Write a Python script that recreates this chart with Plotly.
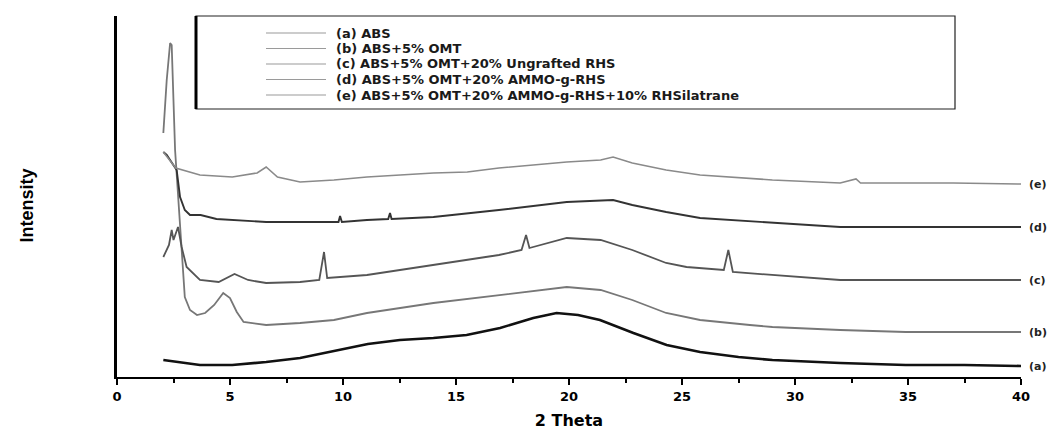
import plotly.graph_objects as go

# Diffraction angle (2 theta) and intensity (a.u., offset stacked)
a_x = [2.05, 3.0, 3.67, 5.1, 6.6, 8.1, 9.57, 11.1, 12.52, 14.0, 15.47, 16.95, 18.42, 19.45, 20.4, 21.37, 22.85, 24.32, 25.8, 27.5, 29.0, 32.0, 34.9, 37.5, 40.0]
a_y = [17, 14, 12, 12, 15, 19, 26, 33, 37, 39, 42, 49, 59, 64, 62, 57, 44, 32, 25, 20, 17, 14, 12, 12, 11]

b_x = [2.05, 2.2, 2.35, 2.42, 2.57, 2.79, 2.88, 3.0, 3.23, 3.54, 3.9, 4.3, 4.7, 5.0, 5.3, 5.6, 6.6, 8.1, 9.6, 11.06, 14.0, 16.9, 19.9, 21.4, 22.8, 24.3, 25.8, 28.0, 29.0, 32.0, 34.9, 40.0]
b_y = [244, 297, 334, 332, 227, 147, 114, 80, 67, 62, 64, 72, 84, 79, 65, 55, 52, 54, 57, 64, 74, 82, 90, 87, 77, 64, 57, 52, 50, 47, 45, 45]

c_x = [2.05, 2.3, 2.42, 2.5, 2.7, 2.86, 3.08, 3.67, 4.5, 5.2, 5.8, 6.6, 8.1, 8.95, 9.16, 9.3, 11.06, 14.0, 16.9, 17.9, 18.1, 18.25, 19.9, 21.4, 22.8, 24.3, 25.2, 26.85, 27.05, 27.25, 29.0, 32.0, 34.9, 40.0]
c_y = [120, 132, 147, 137, 150, 130, 110, 97, 95, 103, 97, 94, 95, 97, 125, 99, 102, 112, 122, 127, 142, 129, 139, 137, 127, 114, 110, 107, 127, 105, 102, 97, 97, 97]

d_x = [2.05, 2.2, 2.64, 2.79, 3.0, 3.23, 3.7, 4.4, 6.6, 9.8, 9.87, 9.95, 11.06, 12.0, 12.08, 12.15, 14.0, 16.9, 19.9, 21.95, 22.8, 24.3, 25.8, 29.0, 32.0, 34.9, 40.0]
d_y = [225, 222, 207, 180, 167, 162, 162, 158, 155, 155, 161, 155, 157, 158, 164, 158, 160, 167, 175, 177, 172, 165, 159, 154, 150, 150, 150]

e_x = [2.05, 2.6, 3.67, 5.1, 6.2, 6.6, 7.1, 8.1, 9.6, 11.06, 14.0, 15.5, 16.9, 19.9, 21.4, 21.95, 22.8, 24.3, 25.8, 29.0, 32.0, 32.7, 32.9, 34.9, 37.0, 40.0]
e_y = [225, 209, 202, 200, 204, 210, 200, 195, 197, 200, 204, 205, 209, 215, 217, 220, 214, 207, 202, 197, 194, 198, 194, 194, 194, 193]

names = [
    "(a) ABS",
    "(b) ABS+5% OMT",
    "(c) ABS+5% OMT+20% Ungrafted RHS",
    "(d) ABS+5% OMT+20% AMMO-g-RHS",
    "(e) ABS+5% OMT+20% AMMO-g-RHS+10% RHSilatrane",
]
end_labels = ["(a)", "(b)", "(c)", "(d)", "(e)"]
xs = [a_x, b_x, c_x, d_x, e_x]
ys = [a_y, b_y, c_y, d_y, e_y]
colors = ["#111111", "#777777", "#555555", "#333333", "#8a8a8a"]
widths = [2.6, 1.8, 1.8, 1.9, 1.6]

x_ticks = [0, 5, 10, 15, 20, 25, 30, 35, 40]

FONT = "DejaVu Sans"

# layout geometry (pixels)
W, H = 1064, 432
ML, MR, MT, MB = 117, 43, 16, 55
PW, PH = W - ML - MR, H - MT - MB


def px2paper(px):
    return (px - ML) / PW


def py2paper(py):
    return (H - MB - py) / PH


fig = go.Figure()
for x, y, n, c, w in zip(xs, ys, names, colors, widths):
    fig.add_trace(go.Scatter(x=x, y=y, mode="lines", name=n, showlegend=False,
                             line=dict(color=c, width=w)))

# end-of-curve labels
for x, y, lab in zip(xs, ys, end_labels):
    fig.add_annotation(x=x[-1], y=y[-1], text=lab, showarrow=False,
                       xanchor="left", yanchor="middle", xshift=6,
                       font=dict(family=FONT, size=11, color="#222", weight="bold"))

# y-axis title
fig.add_annotation(x=0, y=0.5, xref="paper", yref="paper", text="Intensity",
                   textangle=-90, showarrow=False, xanchor="center", yanchor="middle",
                   xshift=-91, yshift=-9,
                   font=dict(family="Liberation Sans", size=18,
                             color="black", weight="bold"))

# legend frame
fig.add_shape(type="rect", xref="paper", yref="paper",
              x0=px2paper(196), x1=px2paper(955), y0=py2paper(109), y1=py2paper(16),
              line=dict(color="#222", width=1.2), fillcolor="white", layer="below")
fig.add_shape(type="line", xref="paper", yref="paper",
              x0=px2paper(196), x1=px2paper(196), y0=py2paper(109), y1=py2paper(16),
              line=dict(color="black", width=3))

# legend entries
entry_py = [33, 48.5, 64, 79.5, 95]
for name, py in zip(names, entry_py):
    fig.add_shape(type="line", xref="paper", yref="paper",
                  x0=px2paper(266), x1=px2paper(326), y0=py2paper(py), y1=py2paper(py),
                  line=dict(color="#9a9a9a", width=1.2))
    fig.add_annotation(x=px2paper(334), y=py2paper(py), xref="paper", yref="paper",
                       text=name, showarrow=False, xanchor="left", yanchor="middle",
                       font=dict(family=FONT, size=13, color="#1a1a1a", weight="bold"))

fig.update_layout(
    width=W, height=H,
    margin=dict(l=ML, r=MR, t=MT, b=MB),
    paper_bgcolor="white", plot_bgcolor="white",
    showlegend=False,
    xaxis=dict(range=[0, 40], tickvals=x_ticks, ticks="outside", ticklen=6, tickwidth=2,
               tickcolor="black", showline=True, linecolor="black", linewidth=2,
               showgrid=False, zeroline=False, automargin=False,
               minor=dict(dtick=2.5, ticks="outside", ticklen=4, tickwidth=2, tickcolor="black"),
               tickfont=dict(family=FONT, size=13, color="black", weight="bold"),
               title=dict(text="2 Theta", standoff=12,
                          font=dict(family=FONT, size=16, color="black", weight="bold"))),
    yaxis=dict(range=[0, 361], showline=True, linecolor="black", linewidth=3,
               showticklabels=False, ticks="", showgrid=False, zeroline=False,
               automargin=False),
)

fig.write_html("out.html")
